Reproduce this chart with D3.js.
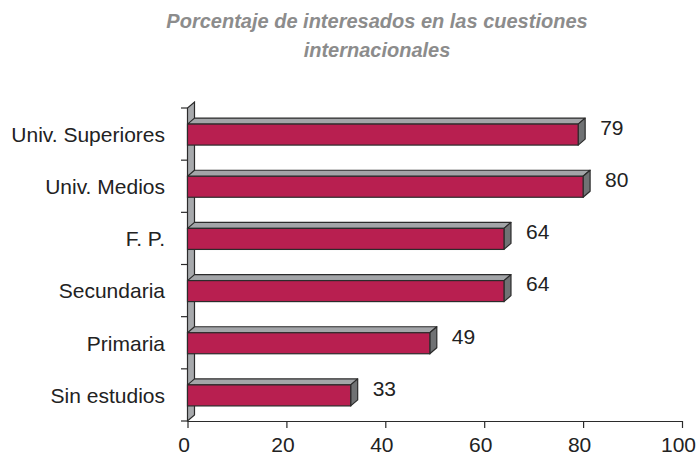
<!DOCTYPE html>
<html>
<head>
<meta charset="utf-8">
<script src="https://cdn.jsdelivr.net/npm/d3@7"></script>
<style>
    body { margin: 0; background: #fff; }
    text { font-family: "Liberation Sans", Arial, sans-serif; }
</style>
</head>
<body>
<div id="chart"></div>
<script>
// data, top to bottom
const categories = ["Univ. Superiores", "Univ. Medios", "F. P.", "Secundaria", "Primaria", "Sin estudios"]
const values = [79, 80, 64, 64, 49, 33]
const xTicks = [0, 20, 40, 60, 80, 100]
const titleLines = ["Porcentaje de interesados en las cuestiones", "internacionales"]

const dimensions = {
    width: 696,
    height: 458,
    margin: { top: 108, right: 14, bottom: 37, left: 187.5 }
}
dimensions.boundedWidth = dimensions.width - dimensions.margin.left - dimensions.margin.right
dimensions.boundedHeight = dimensions.height - dimensions.margin.top - dimensions.margin.bottom

const depthX = 7
const depthY = 6
const barHeight = 21

const svg = d3.select("#chart")
    .append("svg")
    .attr("width", dimensions.width)
    .attr("height", dimensions.height)

const bounds = svg.append("g")
    .attr("transform", `translate(${dimensions.margin.left},${dimensions.margin.top})`)

const data = categories.map((c, i) => ({ category: c, value: values[i] }))

// scales
const xScale = d3.scaleLinear()
    .domain([0, 100])
    .range([0, dimensions.boundedWidth])

const yScale = d3.scaleBand()
    .domain(categories)
    .range([0, dimensions.boundedHeight])

const mid = d => yScale(d.category) + yScale.bandwidth() / 2 + 0.5

// title
svg.append("g")
    .selectAll("text")
    .data(titleLines)
    .join("text")
    .attr("x", 377)
    .attr("y", (d, i) => 28 + i * 29)
    .attr("text-anchor", "middle")
    .attr("font-size", 20)
    .attr("font-weight", "bold")
    .attr("font-style", "italic")
    .attr("fill", "#8c8c8c")
    .text(d => d)

// back wall
const h = dimensions.boundedHeight
bounds.append("path")
    .attr("d", `M0,${h} L0,0 L${depthX},${-depthY} L${depthX},${h - depthY} Z`)
    .attr("fill", "#a7a9ac")
    .attr("stroke", "#2b2b2b")
    .attr("stroke-width", 1.2)

// left ticks at band edges
bounds.append("g")
    .selectAll("line")
    .data(d3.range(categories.length + 1))
    .join("line")
    .attr("x1", -6.5)
    .attr("x2", 0)
    .attr("y1", i => i * yScale.step())
    .attr("y2", i => i * yScale.step())
    .attr("stroke", "#2b2b2b")
    .attr("stroke-width", 1.2)

// x axis
const xAxisGenerator = d3.axisBottom(xScale)
    .tickValues(xTicks)
    .tickSize(7)
    .tickPadding(9.5)
    .tickSizeOuter(0)

const xAxis = bounds.append("g")
    .attr("transform", `translate(0,${h})`)
    .call(xAxisGenerator)
xAxis.select(".domain").attr("stroke", "#2b2b2b").attr("stroke-width", 1.2)
xAxis.selectAll(".tick line").attr("stroke", "#2b2b2b").attr("stroke-width", 1.2)
xAxis.selectAll(".tick text")
    .attr("x", -4)
    .attr("font-size", 21)
    .attr("font-family", "'Liberation Sans', Arial, sans-serif")
    .attr("fill", "#222")

// category labels
bounds.append("g")
    .selectAll("text")
    .data(data)
    .join("text")
    .attr("x", -22.5)
    .attr("y", d => mid(d))
    .attr("dy", "0.35em")
    .attr("text-anchor", "end")
    .attr("font-size", 21)
    .attr("fill", "#222")
    .text(d => d.category)

// 3d bars
const bars = bounds.append("g")
    .selectAll("g")
    .data(data)
    .join("g")

// top face
bars.append("path")
    .attr("d", d => {
        const y0 = mid(d) - barHeight / 2
        const x1 = xScale(d.value)
        return `M0,${y0} L${depthX},${y0 - depthY} L${x1 + depthX},${y0 - depthY} L${x1},${y0} Z`
    })
    .attr("fill", "#a3a5a8")
    .attr("stroke", "#2b2b2b")
    .attr("stroke-width", 1.2)
    .attr("stroke-linejoin", "round")

// side face
bars.append("path")
    .attr("d", d => {
        const y0 = mid(d) - barHeight / 2
        const x1 = xScale(d.value)
        return `M${x1},${y0} L${x1 + depthX},${y0 - depthY} L${x1 + depthX},${y0 - depthY + barHeight} L${x1},${y0 + barHeight} Z`
    })
    .attr("fill", "#707274")
    .attr("stroke", "#2b2b2b")
    .attr("stroke-width", 1.2)
    .attr("stroke-linejoin", "round")

// front face
bars.append("rect")
    .attr("x", 0)
    .attr("y", d => mid(d) - barHeight / 2)
    .attr("width", d => xScale(d.value))
    .attr("height", barHeight)
    .attr("fill", "#b81f50")
    .attr("stroke", "#2b2b2b")
    .attr("stroke-width", 1.2)

// value labels
bounds.append("g")
    .selectAll("text")
    .data(data)
    .join("text")
    .attr("x", d => xScale(d.value) + 22)
    .attr("y", d => mid(d) - 7)
    .attr("dy", "0.35em")
    .attr("font-size", 21)
    .attr("fill", "#222")
    .text(d => d.value)
</script>
</body>
</html>
